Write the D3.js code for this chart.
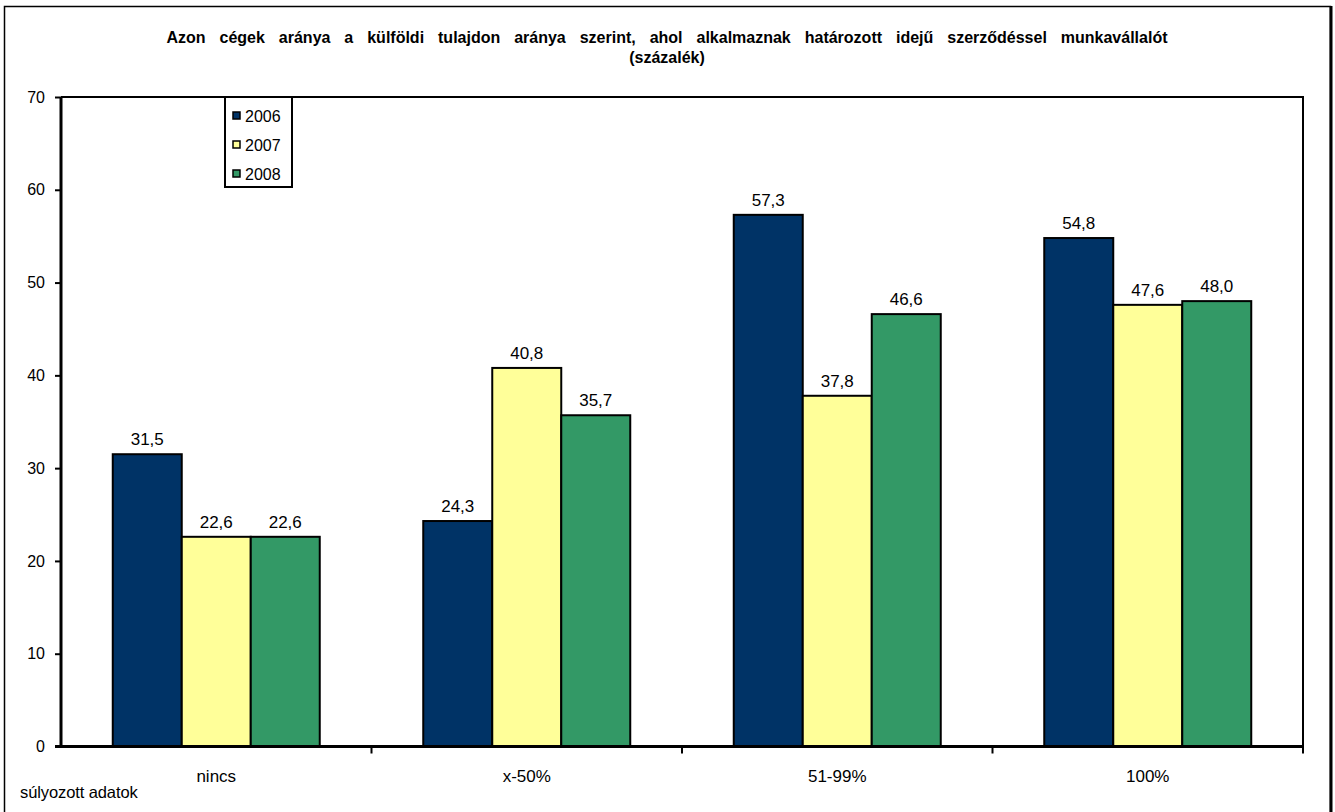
<!DOCTYPE html>
<html>
<head>
<meta charset="utf-8">
<script src="https://cdn.jsdelivr.net/npm/d3@7"></script>
<style>
  body { margin: 0; background: #fff; }
  text { font-family: Arial, "Liberation Sans", sans-serif; fill: #000; }
</style>
</head>
<body>
<div class="canvas"></div>
<script>
// data
const categories = ['nincs', 'x-50%', '51-99%', '100%'];
const years = ['2006', '2007', '2008'];
const values2006 = [31.5, 24.3, 57.3, 54.8];
const values2007 = [22.6, 40.8, 37.8, 47.6];
const values2008 = [22.6, 35.7, 46.6, 48.0];
const yTicks = [0, 10, 20, 30, 40, 50, 60, 70];
const colors = ['#003366', '#FFFF99', '#339966'];

const titleLines = [
    'Azon cégek aránya a külföldi tulajdon aránya szerint, ahol alkalmaznak határozott idejű szerződéssel munkavállalót',
    '(százalék)'
];

const width = 1335, height = 812;

const svg = d3.select('.canvas')
    .append('svg')
    .attr('width', width)
    .attr('height', height);

// outer frame (bottom edge runs off the picture)
svg.append('rect')
    .attr('x', 4.5).attr('y', 6.5)
    .attr('width', 1326).attr('height', 820)
    .attr('fill', 'none').attr('stroke', '#000').attr('stroke-width', 1.5);
svg.append('line')
    .attr('x1', 1331).attr('x2', 1331).attr('y1', 6).attr('y2', height)
    .attr('stroke', '#000').attr('stroke-width', 3);

// plot area
const plot = { left: 61, right: 1303, top: 97, bottom: 746.5 };

const x = d3.scaleBand()
    .domain(categories)
    .range([plot.left, plot.right]);

// Excel style: gap width 150% of one bar
const barW = x.bandwidth() / 4.5;
const x1 = d3.scaleBand()
    .domain(years)
    .range([barW * 0.75, x.bandwidth() - barW * 0.75]);

const y = d3.scaleLinear()
    .domain([0, 70])
    .range([plot.bottom, plot.top]);

// title
const title = svg.append('g');
titleLines.forEach((t, i) => {
    const el = title.append('text')
        .attr('x', 667)
        .attr('y', 43 + i * 20)
        .attr('text-anchor', 'middle')
        .attr('font-weight', 'bold')
        .attr('font-size', 16)
        .text(t);
    if (i === 0) {
        // stretch the word gaps like the original title
        const w = el.node().getComputedTextLength();
        const spaces = t.split(' ').length - 1;
        el.attr('word-spacing', Math.max(0, (1001 - w) / spaces) + 'px');
    }
});

// plot box top and right edges
svg.append('path')
    .attr('d', `M${plot.left},${plot.top}H${plot.right}V${plot.bottom}`)
    .attr('fill', 'none').attr('stroke', '#000').attr('stroke-width', 2);

// series table
const series = [values2006, values2007, values2008];
const rows = [];
categories.forEach((c, i) => {
    years.forEach((yr, j) => rows.push({ cat: c, year: yr, value: series[j][i], color: colors[j] }));
});

const bars = svg.append('g');
bars.selectAll('rect')
    .data(rows)
    .enter()
    .append('rect')
    .attr('x', d => x(d.cat) + x1(d.year))
    .attr('y', d => y(d.value))
    .attr('width', x1.bandwidth())
    .attr('height', d => y(0) - y(d.value))
    .attr('fill', d => d.color)
    .attr('stroke', '#000')
    .attr('stroke-width', 2);

bars.selectAll('text.val')
    .data(rows)
    .enter()
    .append('text')
    .attr('class', 'val')
    .attr('x', d => x(d.cat) + x1(d.year) + x1.bandwidth() / 2)
    .attr('y', d => y(d.value) - 9)
    .attr('text-anchor', 'middle')
    .attr('font-size', 17)
    .text(d => d.value.toFixed(1).replace('.', ','));

// y axis
const yAxis = d3.axisLeft(y)
    .tickValues(yTicks)
    .tickSize(6)
    .tickPadding(10)
    .tickFormat(d => d);
const yAxisGroup = svg.append('g')
    .attr('transform', `translate(${plot.left}, 0)`)
    .call(yAxis);
yAxisGroup.select('.domain').attr('stroke-width', 3).attr('d', `M0,${plot.top}V${plot.bottom + 1.5}`);
yAxisGroup.selectAll('.tick line').attr('stroke-width', 2);
yAxisGroup.selectAll('text').attr('font-size', 16).attr('font-family', 'Arial, "Liberation Sans", sans-serif').attr('fill', '#000');

// x axis: ticks between categories
const xAxisGroup = svg.append('g');
xAxisGroup.append('line')
    .attr('x1', plot.left - 6).attr('x2', plot.right + 1)
    .attr('y1', plot.bottom).attr('y2', plot.bottom)
    .attr('stroke', '#000').attr('stroke-width', 3);
xAxisGroup.selectAll('line.tk')
    .data(categories)
    .enter()
    .append('line')
    .attr('class', 'tk')
    .attr('x1', d => x(d) + x.bandwidth()).attr('x2', d => x(d) + x.bandwidth())
    .attr('y1', plot.bottom).attr('y2', plot.bottom + 7)
    .attr('stroke', '#000').attr('stroke-width', 2);
xAxisGroup.selectAll('text')
    .data(categories)
    .enter()
    .append('text')
    .attr('x', d => x(d) + x.bandwidth() / 2)
    .attr('y', 782)
    .attr('text-anchor', 'middle')
    .attr('font-size', 17)
    .text(d => d);

// legend
const legend = svg.append('g');
legend.append('rect')
    .attr('x', 225).attr('y', 97)
    .attr('width', 67).attr('height', 90)
    .attr('fill', '#fff').attr('stroke', '#000').attr('stroke-width', 2);
const li = legend.selectAll('g.item')
    .data(years)
    .enter()
    .append('g')
    .attr('class', 'item')
    .attr('transform', (d, i) => `translate(233, ${116 + i * 29})`);
li.append('rect')
    .attr('x', 0).attr('y', -4)
    .attr('width', 7).attr('height', 7)
    .attr('fill', (d, i) => colors[i])
    .attr('stroke', '#000').attr('stroke-width', 1.5);
li.append('text')
    .attr('x', 12).attr('y', 6)
    .attr('font-size', 16)
    .text(d => d);

// footnote
svg.append('text')
    .attr('x', 20).attr('y', 798)
    .attr('font-size', 16.5)
    .attr('letter-spacing', '-0.1px')
    .text('súlyozott adatok');
</script>
</body>
</html>
